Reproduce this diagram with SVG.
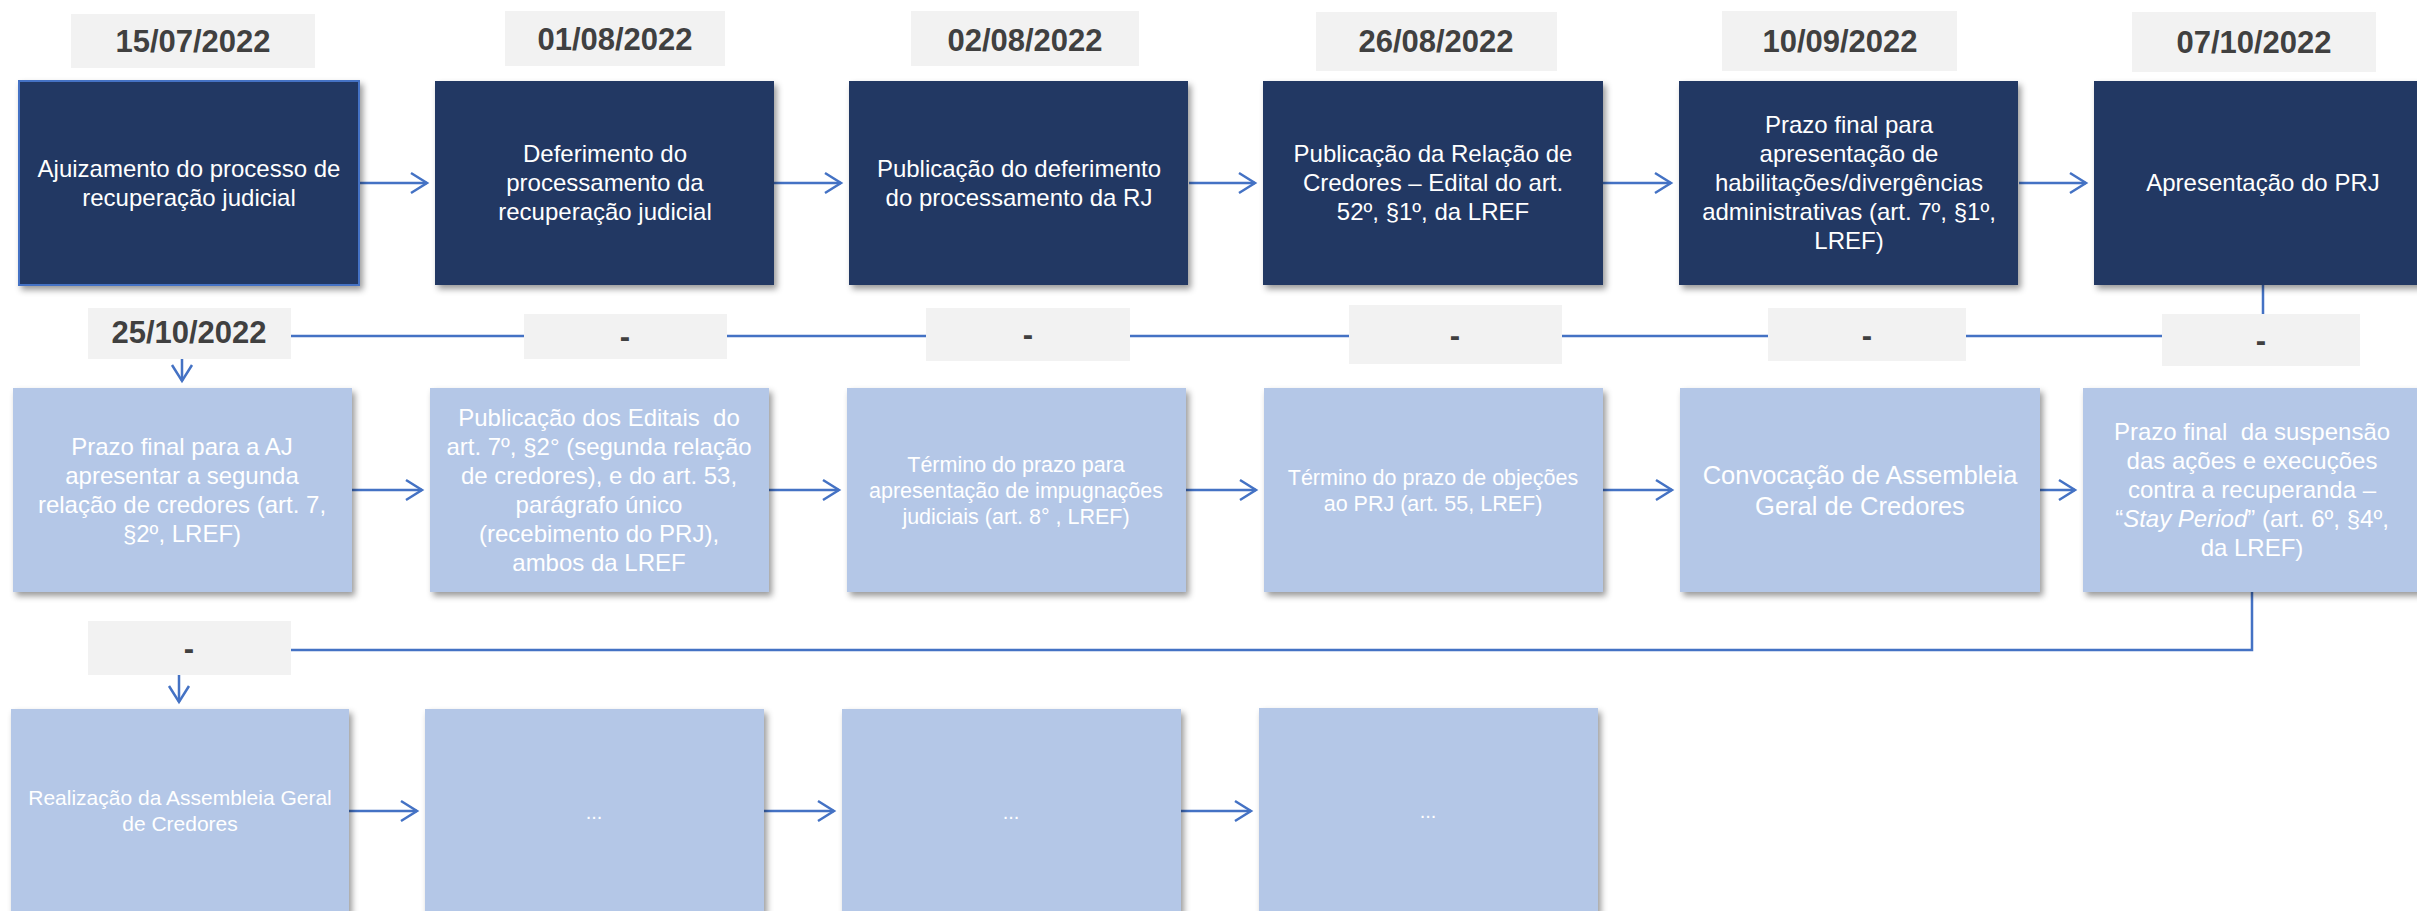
<svg xmlns="http://www.w3.org/2000/svg" width="2417" height="911" viewBox="0 0 2417 911">
<style>
.dark{fill:#203864}
.light{fill:#B4C7E7}
.date{fill:#F2F2F2}
.dt{font-family:"Liberation Sans",Arial,sans-serif;font-weight:bold;font-size:31px;fill:#404040;text-anchor:middle}
.t{font-family:"Liberation Sans",Arial,sans-serif;font-size:24px;fill:#FFFFFF;text-anchor:middle}
.ts{font-size:21.5px}
.tl{font-size:25.5px}
.tr{font-size:21px}
.dots{font-family:"Liberation Sans",Arial,sans-serif;font-size:20px;fill:#FFFFFF;text-anchor:middle}
.c{fill:none;stroke:#4472C4;stroke-width:2.5}
</style>
<defs>
<filter id="sh" x="-10%" y="-10%" width="125%" height="125%">
<feDropShadow dx="3" dy="4" stdDeviation="3" flood-color="#000000" flood-opacity="0.4"/>
</filter>
<marker id="ah" markerUnits="userSpaceOnUse" markerWidth="22" markerHeight="22" refX="18" refY="11" orient="auto" overflow="visible">
<path d="M2,1 L18,11 L2,21" fill="none" stroke="#4472C4" stroke-width="2.5"/>
</marker>
</defs>
<rect width="2417" height="911" fill="#FFFFFF"/>

<g id="connectors">
<path class="c" d="M359,183 H427" marker-end="url(#ah)"/>
<path class="c" d="M774,183 H841" marker-end="url(#ah)"/>
<path class="c" d="M1189,183 H1255" marker-end="url(#ah)"/>
<path class="c" d="M1603,183 H1671" marker-end="url(#ah)"/>
<path class="c" d="M2019,183 H2086" marker-end="url(#ah)"/>
<path class="c" d="M2263,285 V336 H182 V381" marker-end="url(#ah)"/>
<path class="c" d="M352,490 H422" marker-end="url(#ah)"/>
<path class="c" d="M769,490 H839" marker-end="url(#ah)"/>
<path class="c" d="M1186,490 H1256" marker-end="url(#ah)"/>
<path class="c" d="M1603,490 H1672" marker-end="url(#ah)"/>
<path class="c" d="M2040,490 H2075" marker-end="url(#ah)"/>
<path class="c" d="M2252,592 V650 H179 V702" marker-end="url(#ah)"/>
<path class="c" d="M349,811 H417" marker-end="url(#ah)"/>
<path class="c" d="M764,811 H834" marker-end="url(#ah)"/>
<path class="c" d="M1181,811 H1251" marker-end="url(#ah)"/>
</g>

<g id="date1"><rect class="date" x="71" y="14" width="244" height="54"/><text class="dt" x="193" y="52">15/07/2022</text></g>
<g id="date2"><rect class="date" x="505" y="11" width="220" height="55"/><text class="dt" x="615" y="50">01/08/2022</text></g>
<g id="date3"><rect class="date" x="911" y="11" width="228" height="55"/><text class="dt" x="1025" y="51">02/08/2022</text></g>
<g id="date4"><rect class="date" x="1316" y="12" width="241" height="59"/><text class="dt" x="1436" y="52">26/08/2022</text></g>
<g id="date5"><rect class="date" x="1722" y="11" width="235" height="60"/><text class="dt" x="1840" y="52">10/09/2022</text></g>
<g id="date6"><rect class="date" x="2132" y="12" width="244" height="60"/><text class="dt" x="2254" y="53">07/10/2022</text></g>

<g id="date7"><rect class="date" x="88" y="308" width="203" height="51"/><text class="dt" x="189" y="343">25/10/2022</text></g>
<g id="dash2"><rect class="date" x="524" y="314" width="203" height="45"/><text class="dt" x="625" y="347">-</text></g>
<g id="dash3"><rect class="date" x="926" y="308" width="204" height="53"/><text class="dt" x="1028" y="345">-</text></g>
<g id="dash4"><rect class="date" x="1349" y="305" width="213" height="59"/><text class="dt" x="1455" y="346">-</text></g>
<g id="dash5"><rect class="date" x="1768" y="308" width="198" height="53"/><text class="dt" x="1867" y="346">-</text></g>
<g id="dash6"><rect class="date" x="2162" y="314" width="198" height="52"/><text class="dt" x="2261" y="351">-</text></g>
<g id="dash7"><rect class="date" x="88" y="621" width="203" height="54"/><text class="dt" x="189" y="659">-</text></g>

<g id="n1"><rect class="dark" x="19" y="81" width="340" height="204" filter="url(#sh)" stroke="#4472C4" stroke-width="2"/>
<text class="t" x="189"><tspan x="189" y="177">Ajuizamento do processo de</tspan><tspan x="189" y="206">recuperação judicial</tspan></text></g>
<g id="n2"><rect class="dark" x="435" y="81" width="339" height="204" filter="url(#sh)"/>
<text class="t"><tspan x="605" y="162">Deferimento do</tspan><tspan x="605" y="191">processamento da</tspan><tspan x="605" y="220">recuperação judicial</tspan></text></g>
<g id="n3"><rect class="dark" x="849" y="81" width="339" height="204" filter="url(#sh)"/>
<text class="t"><tspan x="1019" y="177">Publicação do deferimento</tspan><tspan x="1019" y="206">do processamento da RJ</tspan></text></g>
<g id="n4"><rect class="dark" x="1263" y="81" width="340" height="204" filter="url(#sh)"/>
<text class="t"><tspan x="1433" y="162">Publicação da Relação de</tspan><tspan x="1433" y="191">Credores – Edital do art.</tspan><tspan x="1433" y="220">52º, §1º, da LREF</tspan></text></g>
<g id="n5"><rect class="dark" x="1679" y="81" width="339" height="204" filter="url(#sh)"/>
<text class="t"><tspan x="1849" y="133">Prazo final para</tspan><tspan x="1849" y="162">apresentação de</tspan><tspan x="1849" y="191">habilitações/divergências</tspan><tspan x="1849" y="220">administrativas (art. 7º, §1º,</tspan><tspan x="1849" y="249">LREF)</tspan></text></g>
<g id="n6"><rect class="dark" x="2094" y="81" width="340" height="204" filter="url(#sh)"/>
<text class="t"><tspan x="2263" y="191">Apresentação do PRJ</tspan></text></g>

<g id="n7"><rect class="light" x="13" y="388" width="339" height="204" filter="url(#sh)"/>
<text class="t"><tspan x="182" y="455">Prazo final para a AJ</tspan><tspan x="182" y="484">apresentar a segunda</tspan><tspan x="182" y="513">relação de credores (art. 7,</tspan><tspan x="182" y="542">§2º, LREF)</tspan></text></g>
<g id="n8"><rect class="light" x="430" y="388" width="339" height="204" filter="url(#sh)"/>
<text class="t" xml:space="preserve"><tspan x="599" y="426">Publicação dos Editais  do</tspan><tspan x="599" y="455">art. 7º, §2° (segunda relação</tspan><tspan x="599" y="484">de credores), e do art. 53,</tspan><tspan x="599" y="513">parágrafo único</tspan><tspan x="599" y="542">(recebimento do PRJ),</tspan><tspan x="599" y="571">ambos da LREF</tspan></text></g>
<g id="n9"><rect class="light" x="847" y="388" width="339" height="204" filter="url(#sh)"/>
<text class="t ts"><tspan x="1016" y="472">Término do prazo para</tspan><tspan x="1016" y="498">apresentação de impugnações</tspan><tspan x="1016" y="524">judiciais (art. 8° , LREF)</tspan></text></g>
<g id="n10"><rect class="light" x="1264" y="388" width="339" height="204" filter="url(#sh)"/>
<text class="t ts"><tspan x="1433" y="485">Término do prazo de objeções</tspan><tspan x="1433" y="511">ao PRJ (art. 55, LREF)</tspan></text></g>
<g id="n11"><rect class="light" x="1680" y="388" width="360" height="204" filter="url(#sh)"/>
<text class="t tl"><tspan x="1860" y="484">Convocação de Assembleia</tspan><tspan x="1860" y="515">Geral de Credores</tspan></text></g>
<g id="n12"><rect class="light" x="2083" y="388" width="340" height="204" filter="url(#sh)"/>
<text class="t" xml:space="preserve"><tspan x="2252" y="440">Prazo final  da suspensão</tspan><tspan x="2252" y="469">das ações e execuções</tspan><tspan x="2252" y="498">contra a recuperanda –</tspan><tspan x="2252" y="527">“<tspan font-style="italic">Stay Period</tspan>” (art. 6º, §4º,</tspan><tspan x="2252" y="556">da LREF)</tspan></text></g>

<g id="n13"><rect class="light" x="11" y="709" width="338" height="204" filter="url(#sh)"/>
<text class="t tr"><tspan x="180" y="805">Realização da Assembleia Geral</tspan><tspan x="180" y="831">de Credores</tspan></text></g>
<g id="n14"><rect class="light" x="425" y="709" width="339" height="204" filter="url(#sh)"/><text class="dots" x="594" y="819">...</text></g>
<g id="n15"><rect class="light" x="842" y="709" width="339" height="204" filter="url(#sh)"/><text class="dots" x="1011" y="819">...</text></g>
<g id="n16"><rect class="light" x="1259" y="708" width="339" height="205" filter="url(#sh)"/><text class="dots" x="1428" y="818">...</text></g>
</svg>
